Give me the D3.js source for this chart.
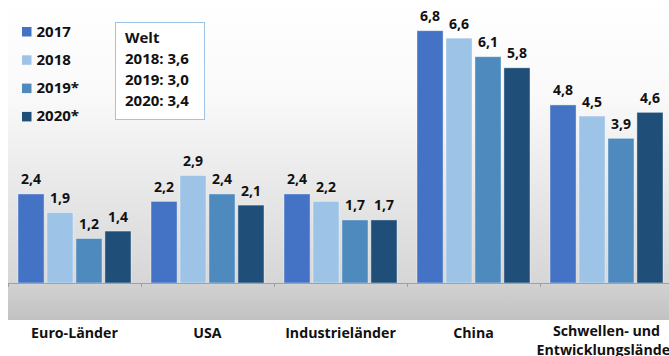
<!DOCTYPE html>
<html><head><meta charset="utf-8">
<script src="https://cdn.jsdelivr.net/npm/d3@7"></script>
<style>
html,body{margin:0;padding:0;background:#fff;}
svg{display:block;font-family:"Open Sans",sans-serif;font-weight:bold;}
</style></head>
<body><svg id="c" width="669" height="356"></svg>
<script>
const categories = ["Euro-Länder","USA","Industrieländer","China","Schwellen- und\nEntwicklungsländer"];
const years = ["2017","2018","2019*","2020*"];
const v2017 = [2.4,2.2,2.4,6.8,4.8];
const v2018 = [1.9,2.9,2.2,6.6,4.5];
const v2019 = [1.2,2.4,1.7,6.1,3.9];
const v2020 = [1.4,2.1,1.7,5.8,4.6];
const series = [v2017,v2018,v2019,v2020];
const colors = ["#4472C4","#9DC3E6","#4E8ABE","#1F4E79"];
const weltLines = ["Welt","2018: 3,6","2019: 3,0","2020: 3,4"];

const svg = d3.select("#c");
const defs = svg.append("defs");
const g1 = defs.append("linearGradient").attr("id","bg").attr("x1",0).attr("y1",0).attr("x2",0).attr("y2",1);
g1.append("stop").attr("offset","0%").attr("stop-color","#ffffff");
g1.append("stop").attr("offset","35%").attr("stop-color","#f9f9f9");
g1.append("stop").attr("offset","100%").attr("stop-color","#d6d6d6");
const g2 = defs.append("linearGradient").attr("id","band").attr("x1",0).attr("y1",0).attr("x2",0).attr("y2",1);
g2.append("stop").attr("offset","0%").attr("stop-color","#d2d2d2");
g2.append("stop").attr("offset","100%").attr("stop-color","#c2c2c2");

const x0 = d3.scaleBand().domain(categories).range([8, 8+5*133]).padding(0);
const x1 = d3.scaleBand().domain(years).range([10, 123]).paddingInner(0.1).paddingOuter(0);
const y = d3.scaleLinear().domain([0,7]).range([283, 283-7*37.1]);

svg.append("rect").attr("x",8).attr("y",0).attr("width",669-8).attr("height",283).attr("fill","url(#bg)");
svg.append("rect").attr("x",8).attr("y",283).attr("width",669-8).attr("height",37).attr("fill","url(#band)");

const groups = svg.selectAll("g.cat").data(categories).join("g")
  .attr("transform",d=>`translate(${x0(d)},0)`);
groups.each(function(cat,ci){
  const gg = d3.select(this);
  years.forEach((yr,si)=>{
    const val = series[si][ci];
    gg.append("rect").attr("x",x1(yr)).attr("y",y(val)).attr("width",x1.bandwidth()).attr("height",y(0)-y(val))
      .attr("fill",colors[si]).attr("stroke","#ffffff").attr("stroke-opacity",0.5).attr("stroke-width",0.8);
    gg.append("text").attr("x",x1(yr)+x1.bandwidth()/2).attr("y",y(val)-9.5)
      .attr("text-anchor","middle").attr("font-size",14).attr("fill","#111")
      .text(d3.format(".1f")(val).replace(".",","));
  });
});

// axis
svg.append("line").attr("x1",8).attr("x2",669).attr("y1",283.5).attr("y2",283.5).attr("stroke","#a0a0a0");
svg.selectAll("line.tk").data(d3.range(6)).join("line")
  .attr("x1",i=>8+i*133+0.5).attr("x2",i=>8+i*133+0.5).attr("y1",283).attr("y2",287).attr("stroke","#a0a0a0");

// category labels
svg.selectAll("text.cl").data(categories).join("text")
  .attr("text-anchor","middle").attr("font-size",14.2).attr("fill","#111")
  .each(function(d){
    const t = d3.select(this);
    const lines = d.split("\n");
    const cx = x0(d)+x0.bandwidth()/2;
    lines.forEach((l,i)=>{
      t.append("tspan").attr("x",cx).attr("y",lines.length>1 ? 336+i*19 : 338).text(l);
    });
  });

// legend
years.forEach((yr,i)=>{
  svg.append("rect").attr("x",22).attr("y",27+i*28.3).attr("width",9.5).attr("height",9.5).attr("fill",colors[i]);
  svg.append("text").attr("x",36.5).attr("y",36.5+i*28.3).attr("font-size",15).attr("fill","#111").text(yr);
});

// Welt box
svg.append("rect").attr("x",115.5).attr("y",22.5).attr("width",89).attr("height",97).attr("fill","#fff").attr("stroke","#9DC3E6");
weltLines.forEach((l,i)=>{
  svg.append("text").attr("x",125).attr("y",42.5+i*21.3).attr("font-size",15).attr("fill","#111").text(l);
});
</script></body></html>
